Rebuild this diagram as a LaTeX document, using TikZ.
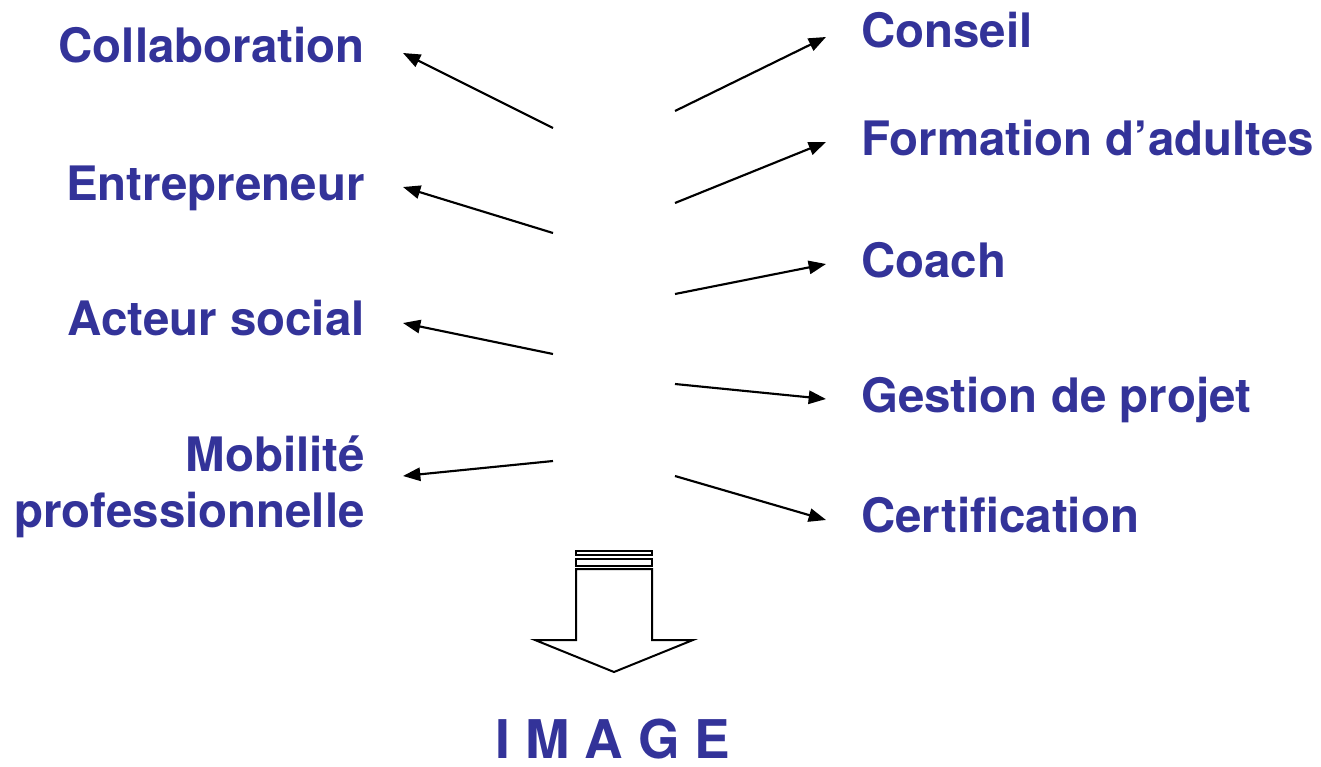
\documentclass[tikz,border=0pt]{standalone}
\usepackage{fontspec}
\setmainfont{TeX Gyre Heros}
\usepackage{color}
\definecolor{mynavy}{RGB}{51,51,153}
\usetikzlibrary{arrows.meta,positioning}
\tikzstyle{leftlabel}=[anchor=base east,inner sep=0pt,text=mynavy,font=\fontsize{35.6}{42}\selectfont\bfseries,align=right]
\tikzstyle{rightlabel}=[anchor=base west,inner sep=0pt,text=mynavy,font=\fontsize{35.6}{42}\selectfont\bfseries]
\tikzstyle{link}=[line width=1.6pt,-{Triangle[length=13pt,width=10pt]}]
\tikzstyle{bigarrow}=[draw,line width=1.5pt,fill=white,line join=miter]
\begin{document}
\begin{tikzpicture}[x=0.75pt,y=-0.75pt]
\useasboundingbox (0,0) rectangle (1321,767);
% labels
\node [leftlabel] (collab) at (365,63) {Collaboration};
\node [leftlabel] (entre) at (365,200) {Entrepreneur};
\node [leftlabel] (acteur) at (365,335) {Acteur social};
\node [leftlabel] (mobil) at (365,527) {Mobilit\'e\\professionnelle};
\node [rightlabel] (conseil) at (861,48) {Conseil};
\node [rightlabel] (forma) at (861,155) {Formation d'adultes};
\node [rightlabel] (coach) at (861,277) {Coach};
\node [rightlabel] (gestion) at (861,412) {Gestion de projet};
\node [rightlabel] (certif) at (861,532) {Certification};
\node [text=mynavy,font=\fontsize{40}{48}\selectfont\bfseries,anchor=base,inner sep=0pt] (image) at (613,758) {I M A G E};
% arrow ends
\coordinate (s1) at (553,128); \coordinate (e1) at (403,53);
\coordinate (s2) at (553,233); \coordinate (e2) at (403,187);
\coordinate (s3) at (553,354); \coordinate (e3) at (403,323);
\coordinate (s4) at (553,461); \coordinate (e4) at (403,476);
\coordinate (t1) at (675,111); \coordinate (f1) at (826,37);
\coordinate (t2) at (675,203); \coordinate (f2) at (826,142);
\coordinate (t3) at (675,294); \coordinate (f3) at (826,264);
\coordinate (t4) at (675,384); \coordinate (f4) at (826,399);
\coordinate (t5) at (675,476); \coordinate (f5) at (826,520);
\foreach \i in {1,...,4} \draw [link] (s\i) -- (e\i);
\foreach \i in {1,...,5} \draw [link] (t\i) -- (f\i);
% block arrow
\draw [bigarrow] (576,551) rectangle (652,555);
\draw [bigarrow] (576,559) rectangle (652,566);
\draw [bigarrow] (576,569) -- (652,569) -- (652,640) -- (693,640) -- (614,672)
  -- (535,640) -- (576,640) -- cycle;
\end{tikzpicture}
\end{document}
